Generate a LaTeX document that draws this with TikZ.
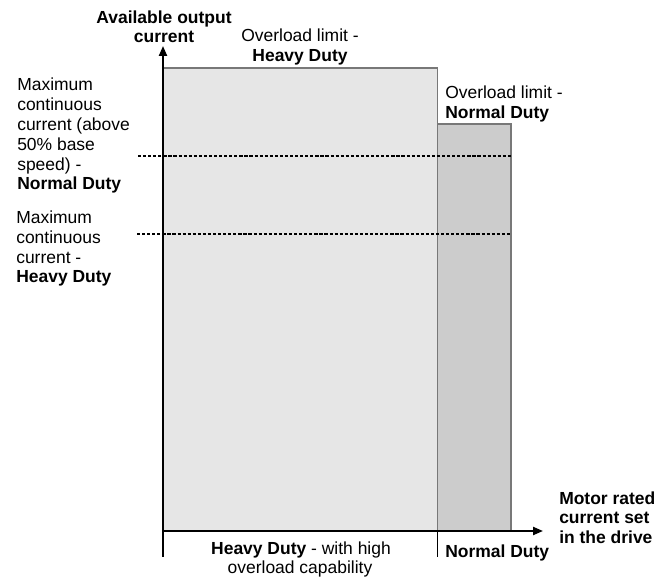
\documentclass[tikz,border=0pt]{standalone}
\usepackage{fontspec}
\setmainfont{Liberation Sans}
\usetikzlibrary{arrows.meta}
\definecolor{hdfill}{RGB}{230,230,230}
\definecolor{ndfill}{RGB}{204,204,204}
\definecolor{edge}{RGB}{120,120,120}
\begin{document}
\begin{tikzpicture}[x=0.75pt,y=-0.75pt,
  txt/.style={inner sep=0pt,font=\fontsize{13.1}{15}\selectfont},
  btxt/.style={txt,font=\fontsize{13.1}{15}\selectfont\bfseries},
  axisline/.style={line width=1.6pt,-{Triangle[length=7.5pt,width=6pt]}},
  tickline/.style={line width=0.9pt},
  limitline/.style={line width=1.1pt,dash pattern=on 2.4pt off 1.4pt},
  hdbar/.style={fill=hdfill,draw=edge,line width=1.1pt},
  ndbar/.style={fill=ndfill,draw=edge,line width=1.1pt}]
\useasboundingbox (0,0) rectangle (668,577);
% bars
\path[hdbar] (163,68) rectangle (437.5,531);
\path[ndbar] (437.5,124) rectangle (511,531);
% coordinates
\coordinate (O) at (163,531);
\coordinate (ytip) at (163,46);
\coordinate (xtip) at (543,531);
\coordinate (t1) at (163,557);
\coordinate (m) at (437.5,531);
\coordinate (t2) at (437.5,557);
\coordinate (nd1a) at (138,156);
\coordinate (nd1b) at (511,156);
\coordinate (hd1a) at (137,234);
\coordinate (hd1b) at (511,234);
% dashed limits
\draw[limitline] (nd1a) -- (nd1b);
\draw[limitline] (hd1a) -- (hd1b);
% axes
\draw[axisline] (O) -- (ytip);
\draw[axisline] (O) -- (xtip);
\draw[tickline] (O) -- (t1);
\draw[tickline] (m) -- (t2);
% y-axis title
\node[btxt,anchor=base] (ya1) at (164,24) {Available output};
\node[btxt,anchor=base] (ya2) at (164,43) {current};
% overload HD
\node[txt,anchor=base] (ol1) at (300,42) {Overload limit -};
\node[btxt,anchor=base] (ol2) at (300,62) {Heavy Duty};
% overload ND
\node[txt,anchor=base west] (on1) at (445,99) {Overload limit -};
\node[btxt,anchor=base west] (on2) at (445,119) {Normal Duty};
% left label ND
\node[txt,anchor=base west] (a1) at (17,91) {Maximum};
\node[txt,anchor=base west] (a2) at (17,111) {continuous};
\node[txt,anchor=base west] (a3) at (17,131) {current (above};
\node[txt,anchor=base west] (a4) at (17,151) {50\% base};
\node[txt,anchor=base west] (a5) at (17,171) {speed) -};
\node[btxt,anchor=base west] (a6) at (17,190) {Normal Duty};
% left label HD
\node[txt,anchor=base west] (b1) at (16,224) {Maximum};
\node[txt,anchor=base west] (b2) at (16,244) {continuous};
\node[txt,anchor=base west] (b3) at (16,264) {current -};
\node[btxt,anchor=base west] (b4) at (16,283) {Heavy Duty};
% x-axis title
\node[btxt,anchor=base west] (x1) at (559,504) {Motor rated};
\node[btxt,anchor=base west] (x2) at (559,523) {current set};
\node[btxt,anchor=base west] (x3) at (559,543) {in the drive};
% bottom labels
\node[txt,anchor=base] (h1) at (301,554) {\textbf{Heavy Duty} - with high};
\node[txt,anchor=base] (h2) at (300,573) {overload capability};
\node[btxt,anchor=base west] (n1) at (445,557) {Normal Duty};
\end{tikzpicture}
\end{document}
